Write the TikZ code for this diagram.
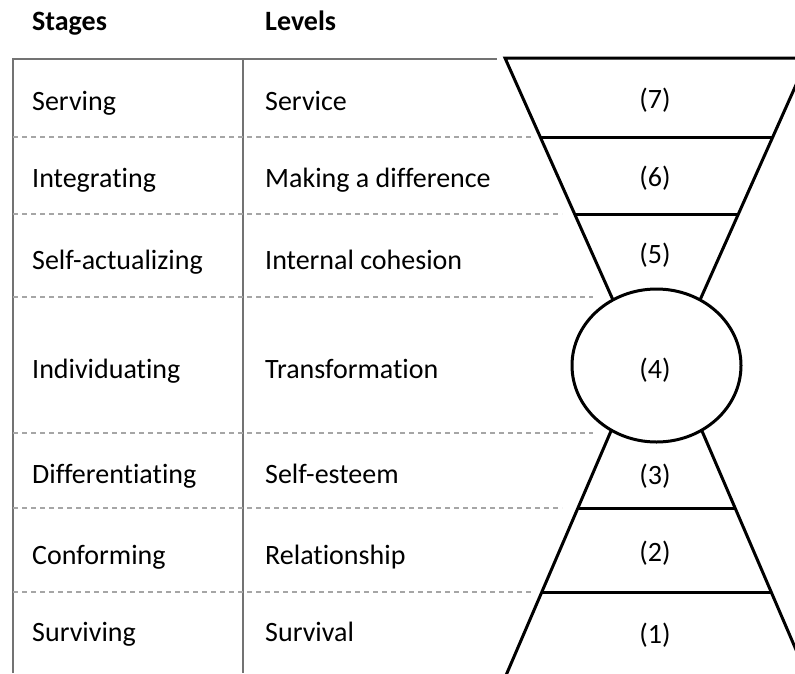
\documentclass[tikz,border=0pt]{standalone}
\usepackage{fontspec}
\setmainfont{Carlito}[Ligatures=NoCommon]
\usepackage{tikz}
\usetikzlibrary{calc}
\usetikzlibrary{shapes.geometric}

\begin{document}
\begin{tikzpicture}[x=1pt,y=-1pt,
    every node/.style={font=\fontsize{28}{33}\selectfont, inner sep=0pt},
    head/.style={anchor=base west, font=\fontsize{28}{33}\selectfont\bfseries},
    stage/.style={anchor=base west},
    level/.style={anchor=base},
    rule/.style={draw=black!55, line width=2pt},
    sep/.style={draw=black!35, line width=1.3pt, dash pattern=on 5pt off 4pt},
    funnel/.style={draw=black, line width=3pt}]
  \useasboundingbox (0,0) rectangle (795,673);

  \node[head] (stages) at (32,30) {Stages};
  \node[head] (levels) at (265,30) {Levels};

  % table frame
  \draw[rule] (13,673) -- (13,59) -- (497,59);
  \draw[rule] (243,59) -- (243,673);

  % row separators
  \foreach \y/\x in {137/533, 214/562, 297/593, 433/593, 508/562, 592/532}
    \draw[sep] (13,\y) -- (\x,\y);

  % stages and levels
  \foreach \y/\s/\l [count=\i] in {110/Serving/Service,
      187/Integrating/Making a difference,
      269/Self-actualizing/Internal cohesion,
      378/Individuating/Transformation,
      483/Differentiating/Self-esteem,
      564/Conforming/Relationship,
      641/Surviving/Survival}
  {
    \node[stage] (s\i) at (32,\y) {\s};
    \node[stage] (l\i) at (265,\y) {\l};
  }

  % upper funnel
  \coordinate (ta) at (505,58);
  \coordinate (tb) at (808,58);
  \coordinate (ua) at (613,300);
  \coordinate (ub) at (700,300);
  \draw[funnel] (ua) -- (ta) -- (tb) -- (ub);
  \draw[funnel] ($(ta)!79/242!(ua)$) -- ($(tb)!79/242!(ub)$);
  \draw[funnel] ($(ta)!156/242!(ua)$) -- ($(tb)!156/242!(ub)$);

  % lower funnel
  \coordinate (la) at (611,431);
  \coordinate (lb) at (702,431);
  \coordinate (ba) at (507,673);
  \coordinate (bb) at (806,673);
  \draw[funnel] (la) -- ($(la)!1.05!(ba)$);
  \draw[funnel] (lb) -- ($(lb)!1.05!(bb)$);
  \draw[funnel] ($(la)!77/242!(ba)$) -- ($(lb)!77/242!(bb)$);
  \draw[funnel] ($(la)!161/242!(ba)$) -- ($(lb)!161/242!(bb)$);

  % transformation circle
  \node[funnel, ellipse, minimum width=169, minimum height=153] (c4) at (656.5,365.5) {};

  % level numbers
  \foreach \y/\n in {108.5/7, 186.5/6, 263.5/5, 378.5/4, 484.5/3, 561.5/2, 643.5/1}
    \node[level] (n\n) at (655,\y) {(\n)};
\end{tikzpicture}
\end{document}
